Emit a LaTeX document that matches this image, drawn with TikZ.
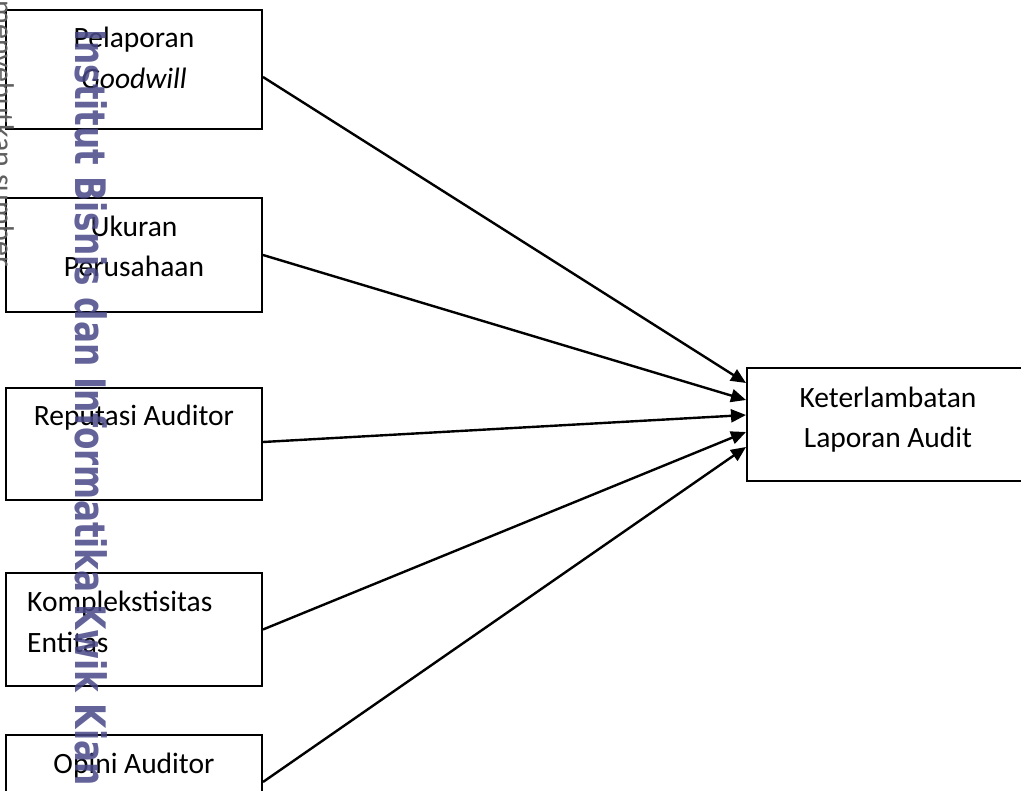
\documentclass[tikz,border=0pt]{standalone}
\usepackage{fontspec}
\setmainfont{Carlito}
\newfontfamily\wmfont{DejaVu Sans}
\usetikzlibrary{arrows.meta}
\definecolor{wmblue}{RGB}{72,72,135}
\definecolor{wmgray}{RGB}{95,95,95}
\tikzset{
  box/.style={draw=black, line width=2pt, minimum width=256pt, inner sep=0pt},
  lbl/.style={anchor=base, inner sep=0pt, font=\fontsize{29.5}{41}\selectfont},
  conn/.style={line width=2.4pt, -{Triangle[length=15pt,width=13pt]}},
}
\begin{document}
\begin{tikzpicture}[x=1pt,y=-1pt]
\useasboundingbox (0,0) rectangle (1021,791);
% boxes
\node[box, minimum height=119pt] (b1) at (134,69.5) {};
\node[box, minimum height=114pt] (b2) at (134,255) {};
\node[box, minimum height=112pt] (b3) at (134,444) {};
\node[box, minimum height=113pt] (b4) at (134,629.5) {};
\node[box, minimum height=80pt] (b5) at (134,775) {};
\node[box, minimum width=276pt, minimum height=113pt] (tk) at (885,424.5) {};
% labels
\node[lbl] (t1a) at (134,48) {Pelaporan};
\node[lbl] (t1b) at (134,89) {\itshape Goodwill};
\node[lbl] (t2a) at (134,237) {Ukuran};
\node[lbl] (t2b) at (134,277) {Perusahaan};
\node[lbl] (t3) at (134,426) {Reputasi Auditor};
\node[lbl, anchor=base west] (t4a) at (27,611) {Komplekstisitas};
\node[lbl, anchor=base west] (t4b) at (27,652) {Entitas};
\node[lbl] (t5) at (134,773) {Opini Auditor};
\node[lbl] (tka) at (888,408) {Keterlambatan};
\node[lbl] (tkb) at (888,448) {Laporan Audit};
% connectors
\draw[conn] ([yshift=-7.5pt]b1.east) -- ([yshift=41.5pt]tk.west);
\draw[conn] (b2.east) -- ([yshift=24.5pt]tk.west);
\draw[conn] ([yshift=2pt]b3.east) -- ([yshift=9.5pt]tk.west);
\draw[conn] (b4.east) -- ([yshift=-7.5pt]tk.west);
\draw[conn] ([yshift=-48pt]b5.north east) -- ([yshift=-22.5pt]tk.west);
% watermark
\node[rotate=-90, inner sep=0pt, text=wmblue, opacity=0.85] (wm) at (91,407.5)
  {\scalebox{0.778}[1]{\wmfont\bfseries\fontsize{42}{42}\selectfont Institut Bisnis dan Informatika Kwik Kian}};
\node[rotate=-90, anchor=base west, inner sep=0pt, text=wmgray] (wm2) at (-6,0)
  {\fontsize{30}{30}\selectfont menyebutkan sumber.};
\end{tikzpicture}
\end{document}
